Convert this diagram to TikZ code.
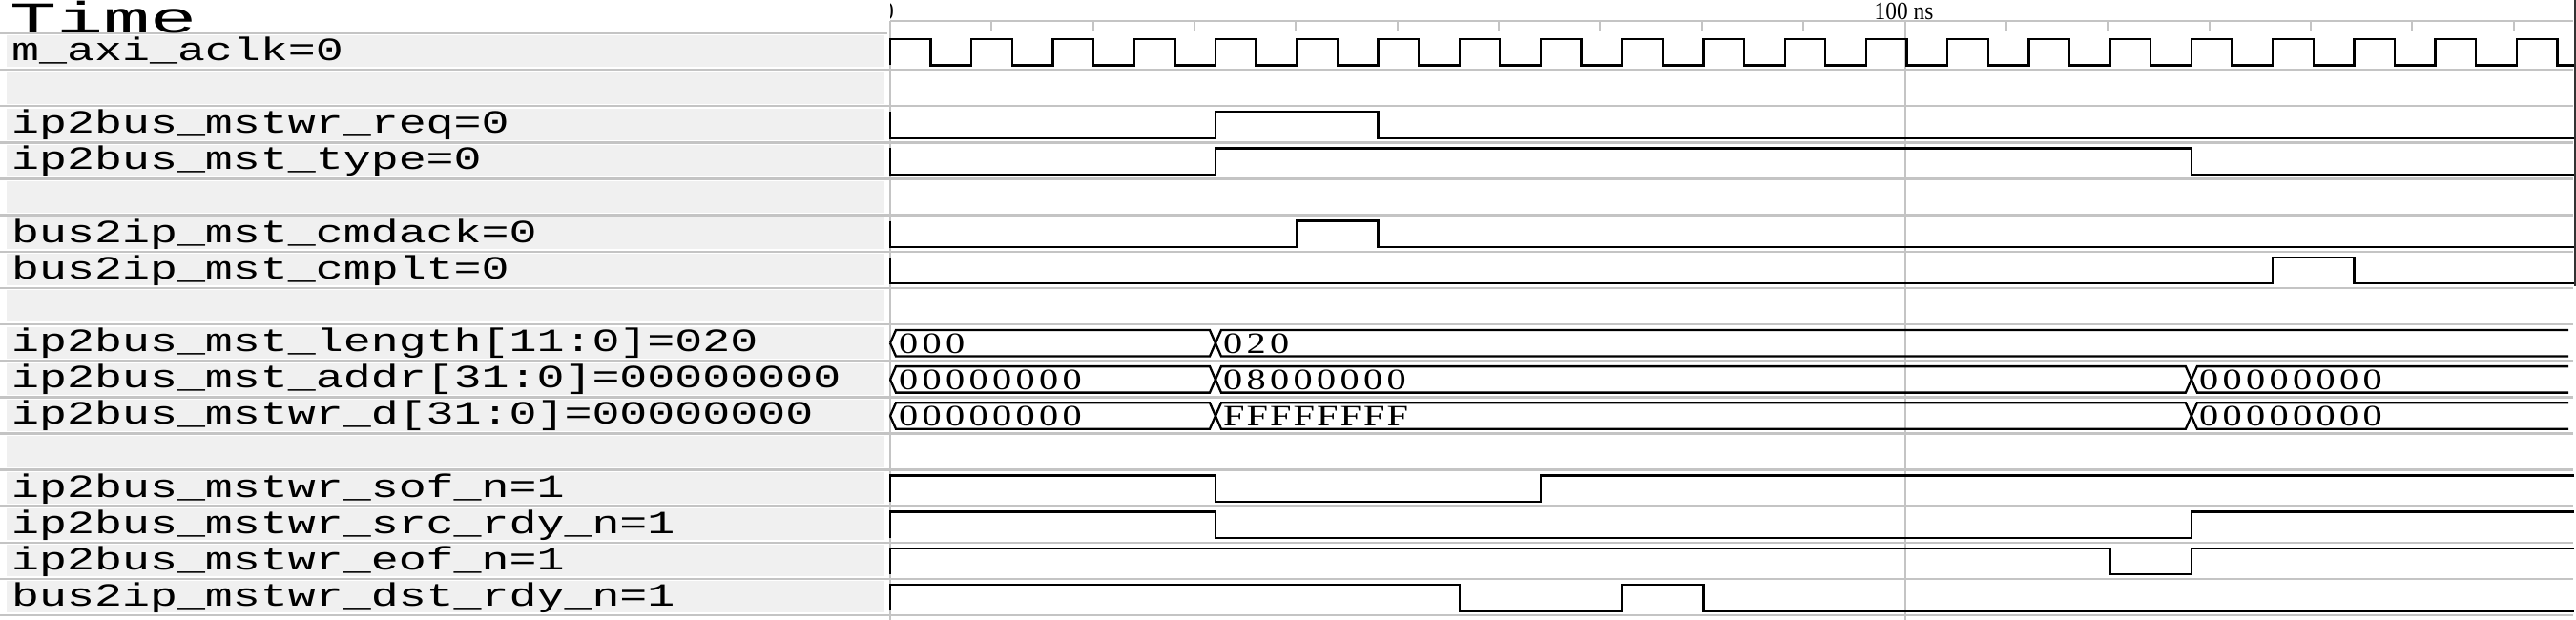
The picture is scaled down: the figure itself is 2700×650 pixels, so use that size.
\documentclass[tikz,border=0pt]{standalone}
\usepackage{fontspec}
\usepackage{graphicx}
\newfontfamily\labfont{Liberation Mono}
\newfontfamily\serfont{Liberation Serif}
\definecolor{panel}{HTML}{F0F0F0}
\definecolor{sepc}{HTML}{C4C4C4}
\tikzset{
  declare function={tx(\t)=933+10.655*\t; rt(\k)=35+38.125*\k; hi(\k)=41+38.125*\k; lo(\k)=68.5+38.125*\k; md(\k)=54.75+38.125*\k;},
  sig/.style={line width=2.3pt, black, line join=miter},
  sepline/.style={line width=2.5pt, sepc},
  gridline/.style={line width=2pt, sepc},
  lab/.style={inner sep=0pt, anchor=base west, font=\labfont\fontsize{34}{34}\selectfont},
  val/.style={inner sep=0pt, anchor=base west, font=\serfont\fontsize{31}{31}\selectfont},
  rul/.style={inner sep=0pt, anchor=base, font=\serfont\fontsize{26}{26}\selectfont},
}
\def\cellchars#1{\ifx#1\relax\else\makebox[24.5pt][l]{\scalebox{1.3}[1]{#1}}\expandafter\cellchars\fi}
\newcommand\lbl[3]{\node[lab] (#1) at (12,{35+38.125*#2+28.5}) {\scalebox{1.42}[1]{#3}};}
\newcommand\bval[4]{\node[val] (#1) at (#3,{35+38.125*#2+30}) {\cellchars#4\relax};}
\begin{document}
\begin{tikzpicture}[x=1pt,y=-1pt]
\useasboundingbox (0,0) rectangle (2700,650);
\fill[white] (0,0) rectangle (2700,650);
% label panel boxes
\foreach \k in {0,...,15} \fill[panel] (7,{35+38.125*\k+2.5}) rectangle (927,{35+38.125*\k+35.5});
% separators
\draw[sepline] (0,35) -- (930,35);
\foreach \k in {1,...,16} \draw[sepline] (0,{35+38.125*\k}) -- (2697,{35+38.125*\k});
% ruler
\draw[gridline] (933,22) -- (2697,22);
\foreach \k in {1,...,16} \draw[gridline] ({933+106.35*\k},22) -- ({933+106.35*\k},33);
\draw[gridline] (933,22) -- (933,650);
\draw[gridline] (1997,22) -- (1997,650);
\draw[line width=2pt, black!80] (2698.8,0) -- (2698.8,300);
\node[rul] (t100) at (1995.5,20.5) {\scalebox{0.9}[1]{100 ns}};
\begin{scope}
  \clip (933,0) rectangle (1000,22);
  \node[rul] (t0) at (931,20.5) {\scalebox{0.9}[1]{0}};
\end{scope}
% title
\node[inner sep=0pt, anchor=base west] (time) at (10,34.5) {\labfont\fontsize{46}{46}\selectfont\scalebox{1.78}[1]{Time}};
% labels
\lbl{l0}{0}{m\_axi\_aclk=0}
\lbl{l2}{2}{ip2bus\_mstwr\_req=0}
\lbl{l3}{3}{ip2bus\_mst\_type=0}
\lbl{l5}{5}{bus2ip\_mst\_cmdack=0}
\lbl{l6}{6}{bus2ip\_mst\_cmplt=0}
\lbl{l8}{8}{ip2bus\_mst\_length[11:0]=020}
\lbl{l9}{9}{ip2bus\_mst\_addr[31:0]=00000000}
\lbl{l10}{10}{ip2bus\_mstwr\_d[31:0]=00000000}
\lbl{l12}{12}{ip2bus\_mstwr\_sof\_n=1}
\lbl{l13}{13}{ip2bus\_mstwr\_src\_rdy\_n=1}
\lbl{l14}{14}{ip2bus\_mstwr\_eof\_n=1}
\lbl{l15}{15}{bus2ip\_mstwr\_dst\_rdy\_n=1}
% clock
\draw[sig] (933,{lo(0)}) -- (933,{hi(0)})
  \foreach \j in {0,...,19} { -- ({tx(8*\j+4)},{hi(0)}) -- ({tx(8*\j+4)},{lo(0)}) -- ({tx(8*\j+8)},{lo(0)}) -- ({tx(8*\j+8)},{hi(0)}) }
  -- ({tx(164)},{hi(0)}) -- ({tx(164)},{lo(0)}) -- (2698,{lo(0)});
% req
\draw[sig] (933,{hi(2)}) -- (933,{lo(2)}) -- ({tx(32)},{lo(2)}) -- ({tx(32)},{hi(2)}) -- ({tx(48)},{hi(2)}) -- ({tx(48)},{lo(2)}) -- (2698,{lo(2)});
% type
\draw[sig] (933,{hi(3)}) -- (933,{lo(3)}) -- ({tx(32)},{lo(3)}) -- ({tx(32)},{hi(3)}) -- ({tx(128)},{hi(3)}) -- ({tx(128)},{lo(3)}) -- (2698,{lo(3)});
% cmdack
\draw[sig] (933,{hi(5)}) -- (933,{lo(5)}) -- ({tx(40)},{lo(5)}) -- ({tx(40)},{hi(5)}) -- ({tx(48)},{hi(5)}) -- ({tx(48)},{lo(5)}) -- (2698,{lo(5)});
% cmplt
\draw[sig] (933,{hi(6)}) -- (933,{lo(6)}) -- ({tx(136)},{lo(6)}) -- ({tx(136)},{hi(6)}) -- ({tx(144)},{hi(6)}) -- ({tx(144)},{lo(6)}) -- (2698,{lo(6)});
% length bus
\draw[sig] (933,{md(8)}) -- (939,{hi(8)}) -- ({tx(32)-6},{hi(8)}) -- ({tx(32)+6},{lo(8)}) -- (2692,{lo(8)});
\draw[sig] (933,{md(8)}) -- (939,{lo(8)}) -- ({tx(32)-6},{lo(8)}) -- ({tx(32)+6},{hi(8)}) -- (2692,{hi(8)});
\bval{v8a}{8}{942}{000}
\bval{v8b}{8}{{tx(32)+8}}{020}
% addr bus
\draw[sig] (933,{md(9)}) -- (939,{hi(9)}) -- ({tx(32)-6},{hi(9)}) -- ({tx(32)+6},{lo(9)}) -- ({tx(128)-6},{lo(9)}) -- ({tx(128)+6},{hi(9)}) -- (2692,{hi(9)});
\draw[sig] (933,{md(9)}) -- (939,{lo(9)}) -- ({tx(32)-6},{lo(9)}) -- ({tx(32)+6},{hi(9)}) -- ({tx(128)-6},{hi(9)}) -- ({tx(128)+6},{lo(9)}) -- (2692,{lo(9)});
\bval{v9a}{9}{942}{00000000}
\bval{v9b}{9}{{tx(32)+8}}{08000000}
\bval{v9c}{9}{{tx(128)+8}}{00000000}
% data bus
\draw[sig] (933,{md(10)}) -- (939,{hi(10)}) -- ({tx(32)-6},{hi(10)}) -- ({tx(32)+6},{lo(10)}) -- ({tx(128)-6},{lo(10)}) -- ({tx(128)+6},{hi(10)}) -- (2692,{hi(10)});
\draw[sig] (933,{md(10)}) -- (939,{lo(10)}) -- ({tx(32)-6},{lo(10)}) -- ({tx(32)+6},{hi(10)}) -- ({tx(128)-6},{hi(10)}) -- ({tx(128)+6},{lo(10)}) -- (2692,{lo(10)});
\bval{v10a}{10}{942}{00000000}
\bval{v10b}{10}{{tx(32)+8}}{FFFFFFFF}
\bval{v10c}{10}{{tx(128)+8}}{00000000}
% sof_n
\draw[sig] (933,{lo(12)}) -- (933,{hi(12)}) -- ({tx(32)},{hi(12)}) -- ({tx(32)},{lo(12)}) -- ({tx(64)},{lo(12)}) -- ({tx(64)},{hi(12)}) -- (2698,{hi(12)});
% src_rdy_n
\draw[sig] (933,{lo(13)}) -- (933,{hi(13)}) -- ({tx(32)},{hi(13)}) -- ({tx(32)},{lo(13)}) -- ({tx(128)},{lo(13)}) -- ({tx(128)},{hi(13)}) -- (2698,{hi(13)});
% eof_n
\draw[sig] (933,{lo(14)}) -- (933,{hi(14)}) -- ({tx(120)},{hi(14)}) -- ({tx(120)},{lo(14)}) -- ({tx(128)},{lo(14)}) -- ({tx(128)},{hi(14)}) -- (2698,{hi(14)});
% dst_rdy_n
\draw[sig] (933,{lo(15)}) -- (933,{hi(15)}) -- ({tx(56)},{hi(15)}) -- ({tx(56)},{lo(15)}) -- ({tx(72)},{lo(15)}) -- ({tx(72)},{hi(15)}) -- ({tx(80)},{hi(15)}) -- ({tx(80)},{lo(15)}) -- (2698,{lo(15)});
\end{tikzpicture}
\end{document}
